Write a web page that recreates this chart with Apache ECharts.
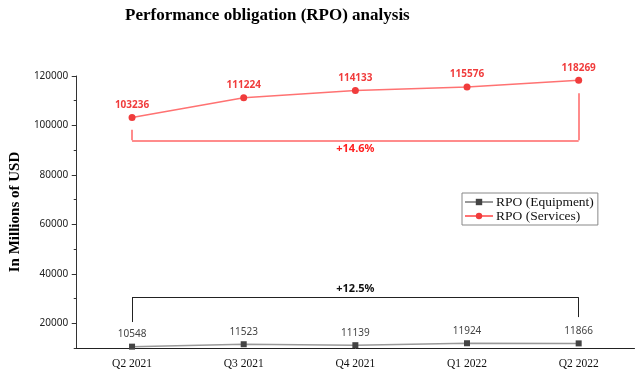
<!DOCTYPE html>
<html>
<head>
    <meta charset="utf-8">
    <style>
        body { margin: 0; background: #fff; }
        #chart { width: 640px; height: 375px; }
    </style>
    <script src="https://cdn.jsdelivr.net/npm/echarts@6/dist/echarts.min.js"></script>
</head>
<body>
    <div id="chart"></div>
    <script type="text/javascript">
        // chart data
        var quarters = ['Q2 2021', 'Q3 2021', 'Q4 2021', 'Q1 2022', 'Q2 2022'];
        var equipment = [10548, 11523, 11139, 11924, 11866];
        var services = [103236, 111224, 114133, 115576, 118269];
        var yLabelValues = [20000, 40000, 60000, 80000, 100000, 120000];
        // bracket levels: [left end, bar, right end]
        var servicesBracket = [98300, 94000, 113000];
        var equipmentBracket = [20500, 30500, 22500];
        var servicesGrowth = '+14.6%';
        var equipmentGrowth = '+12.5%';

        var serif = 'Liberation Serif';
        var sans = 'Noto Sans';

        function bracket(levels, text, color, labelPos) {
            var last = quarters.length - 1;
            return [
                [{ coord: [0, levels[0]] }, { coord: [0, levels[1]] }],
                [{ coord: [0, levels[1]], label: { show: true, formatter: text, position: labelPos,
                    color: color, fontFamily: sans, fontWeight: 'bold', fontSize: 11, distance: 3 } },
                 { coord: [last, levels[1]] }],
                [{ coord: [last, levels[1]] }, { coord: [last, levels[2]] }]
            ];
        }

        var myChart = echarts.init(document.getElementById('chart'));
        myChart.setOption({
            animation: false,
            title: {
                text: 'Performance obligation (RPO) analysis',
                left: 120,
                top: 2,
                textStyle: { fontFamily: serif, fontWeight: 'bold', fontSize: 17, color: '#000' }
            },
            legend: {
                orient: 'vertical',
                left: 462,
                top: 193,
                padding: [2, 4, 2, 2],
                itemGap: 0,
                itemWidth: 28,
                itemHeight: 8,
                borderColor: '#888',
                borderWidth: 1,
                textStyle: { fontFamily: serif, fontSize: 13.5, color: '#111', padding: [0, 0, 0, -2] },
                data: ['RPO (Equipment)', 'RPO (Services)']
            },
            grid: { left: 71, right: 5.5, top: 76, bottom: 27 },
            xAxis: [{
                type: 'category',
                data: quarters,
                boundaryGap: true,
                axisLine: { lineStyle: { color: '#222', width: 1 } },
                axisTick: { alignWithLabel: true, length: 4, lineStyle: { color: '#222' } },
                axisLabel: { fontFamily: serif, fontSize: 11.5, color: '#111', margin: 10 }
            }, {
                type: 'category',
                data: quarters,
                position: 'bottom',
                boundaryGap: true,
                axisLine: { show: false },
                axisTick: { length: 2.5, lineStyle: { color: '#222' } },
                axisLabel: { show: false }
            }],
            yAxis: [{
                type: 'value',
                min: 10000,
                max: 120000,
                interval: 10000,
                name: 'In Millions of USD',
                nameLocation: 'middle',
                nameGap: 45,
                nameTextStyle: { fontFamily: serif, fontWeight: 'bold', fontSize: 15, color: '#000' },
                splitLine: { show: false },
                axisLine: { show: true, lineStyle: { color: '#333', width: 1 } },
                axisTick: { show: true, length: 4.5, customValues: yLabelValues, lineStyle: { color: '#333' } },
                axisLabel: { customValues: yLabelValues, fontFamily: sans, fontSize: 10, color: '#222', margin: 8,
                    formatter: function (v) { return yLabelValues.indexOf(v) >= 0 ? String(v) : ''; } }
            }, {
                type: 'value',
                min: 10000,
                max: 120000,
                interval: 10000,
                position: 'left',
                splitLine: { show: false },
                axisLine: { show: false },
                axisTick: { show: true, length: 2.5, lineStyle: { color: '#333' } },
                axisLabel: { show: false }
            }],
            series: [{
                name: 'RPO (Equipment)',
                type: 'line',
                data: equipment,
                symbol: 'rect',
                symbolSize: 6,
                itemStyle: { color: '#444' },
                lineStyle: { color: '#999', width: 1.5 },
                label: { show: true, position: 'top', distance: 4, fontFamily: sans, fontSize: 10, color: '#444' },
                markLine: {
                    silent: true,
                    symbol: 'none',
                    lineStyle: { color: '#222', width: 1, type: 'solid' },
                    label: { show: false },
                    data: bracket(equipmentBracket, equipmentGrowth, '#111', 'insideMiddleTop')
                }
            }, {
                name: 'RPO (Services)',
                type: 'line',
                data: services,
                symbol: 'circle',
                symbolSize: 7,
                itemStyle: { color: '#f03c3c' },
                lineStyle: { color: '#ff7272', width: 1.5 },
                label: { show: true, position: 'top', distance: 4, fontFamily: sans, fontSize: 10, fontWeight: 'bold', color: '#f03c3c' },
                markLine: {
                    silent: true,
                    symbol: 'none',
                    lineStyle: { color: '#ff6666', width: 1.5, type: 'solid' },
                    label: { show: false },
                    data: bracket(servicesBracket, servicesGrowth, '#ff2020', 'insideMiddleBottom')
                }
            }]
        });
    </script>
</body>
</html>
